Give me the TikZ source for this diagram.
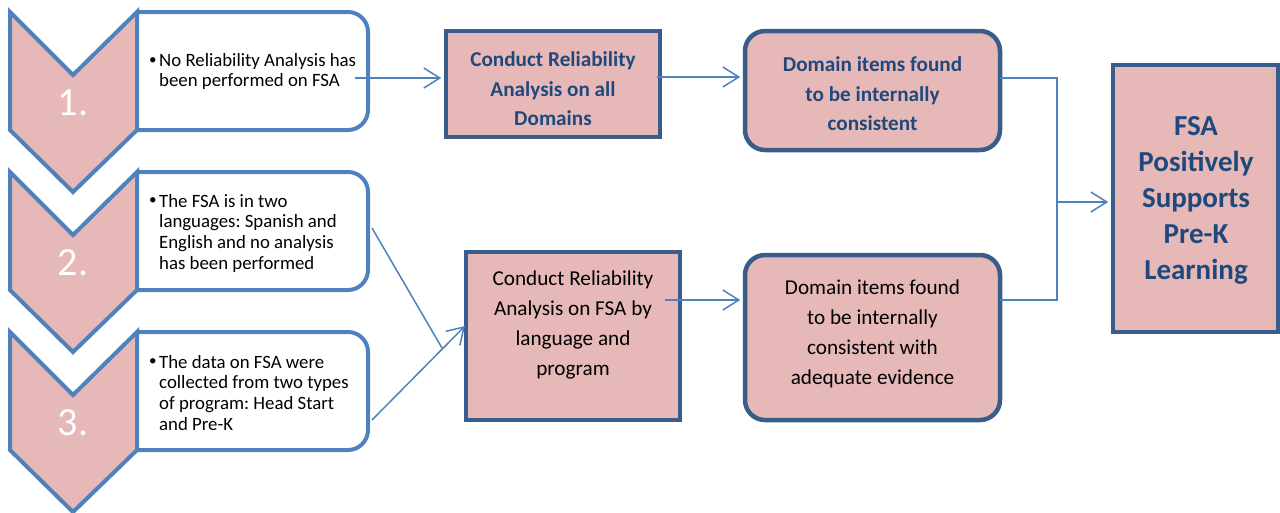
\documentclass[tikz,border=0pt]{standalone}
\usepackage{fontspec}
\setmainfont{Carlito}
\usetikzlibrary{arrows.meta}
\definecolor{chevfill}{HTML}{E6B9B8}
\definecolor{accent}{HTML}{4F81BD}
\definecolor{darkb}{HTML}{385D8A}
\definecolor{txtb}{HTML}{1F497D}
\frenchspacing
\newcommand{\smallbul}{\raisebox{0.12em}{\scalebox{0.8}{\textbullet}}}
\begin{document}
\begin{tikzpicture}[x=1pt,y=-1pt,
 chev/.style={fill=chevfill, draw=accent, line width=4pt, line join=miter},
 bullbox/.style={fill=white, draw=accent, line width=4pt, rounded corners=20pt},
 numtxt/.style={text=white, inner sep=0, font=\fontsize{40}{40}\selectfont},
 bultxt/.style={anchor=west, align=left, inner sep=0, font=\fontsize{18.8}{20.6}\selectfont},
 sqbox/.style={fill=chevfill, draw=darkb, line width=4.5pt, inner sep=0},
 rbox/.style={sqbox, rounded corners=20pt},
 boldtxt/.style={text=txtb, inner sep=0, font=\bfseries\fontsize{21.2}{29.5}\selectfont, align=center},
 plaintxt/.style={text=black, inner sep=0, font=\fontsize{21.2}{30}\selectfont, align=center},
 bigtxt/.style={text=txtb, inner sep=0, font=\bfseries\fontsize{29}{36}\selectfont, align=center},
 conn/.style={draw=accent, line width=1.5pt},
 arr/.style={conn, -{Straight Barb[length=16pt,width=20pt]}},
]
\useasboundingbox (0,0) rectangle (1280,512);

% left column: bullet boxes and chevrons
\foreach \n/\t in {1/12, 2/172, 3/332} {
  \draw[bullbox] (137,\t) -- (368,\t) -- (368,\t+118) -- (137,\t+118);
  \draw[chev] (10,\t) -- (73,\t+63) -- (137,\t) -- (137,\t+118) -- (73,\t+180) -- (10,\t+118) -- cycle;
  \node[numtxt] (n\n) at (73,\t+91) {\n.};
}

\node[bultxt] (t1) at (149,72.5) {\begin{tabular}{@{}p{10pt}@{}l@{}}\smallbul & No Reliability Analysis has\\ & been performed on FSA\end{tabular}};
\node[bultxt] (t2) at (149,234) {\begin{tabular}{@{}p{10pt}@{}l@{}}\smallbul & The FSA is in two\\ & languages: Spanish and\\ & English and no analysis\\ & has been performed\end{tabular}};
\node[bultxt] (t3) at (149,395) {\begin{tabular}{@{}p{10pt}@{}l@{}}\smallbul & The data on FSA were\\ & collected from two types\\ & of program: Head Start\\ & and Pre-K\end{tabular}};

% middle boxes
\node[sqbox, minimum width=214pt, minimum height=106pt] (bA) at (553,84) {};
\node[boldtxt] (tA) at (553,89) {Conduct Reliability\\Analysis on all\\Domains};
\node[sqbox, minimum width=214pt, minimum height=168pt] (bB) at (573,336) {};
\node[plaintxt] (tB) at (573,325) {Conduct Reliability\\Analysis on FSA by\\language and\\program};

\node[rbox, minimum width=255pt, minimum height=119pt] (bC) at (872.5,90.5) {};
\node[boldtxt] (tC) at (872.5,94) {Domain items found\\to be internally\\consistent};
\node[rbox, minimum width=255pt, minimum height=165pt] (bD) at (872.5,337.5) {};
\node[plaintxt] (tD) at (872.5,334) {Domain items found\\to be internally\\consistent with\\adequate evidence};

\node[sqbox, minimum width=165pt, minimum height=267pt] (bE) at (1195.5,198.5) {};
\node[bigtxt] (tE) at (1196,200.5) {FSA\\Positively\\Supports\\Pre-K\\Learning};

% connectors
\coordinate (s1) at (355,78);
\draw[arr, shorten >=2.5pt] (s1) -- (bA.west |- s1);
\coordinate (sA) at (657,77);
\draw[arr, shorten >=2.5pt] (sA) -- (bC.west |- sA);
\coordinate (sB) at (665,300);
\draw[arr, shorten >=2.5pt] (sB) -- (bD.west |- sB);

\coordinate (s2) at (372,228);
\coordinate (mj) at (442,348);
\draw[conn] (s2) -- (mj);
\coordinate (s3) at (372,420);
\coordinate (e3) at (465,326);
\draw[arr] (s3) -- (e3);

\coordinate (cR) at (1000,78);
\coordinate (dR) at (1000,300);
\coordinate (jn) at (1057,202);
\draw[conn] (cR) -| (jn |- dR) -- (dR);
\draw[arr, shorten >=2.5pt] (jn) -- (bE.west |- jn);
\end{tikzpicture}
\end{document}
